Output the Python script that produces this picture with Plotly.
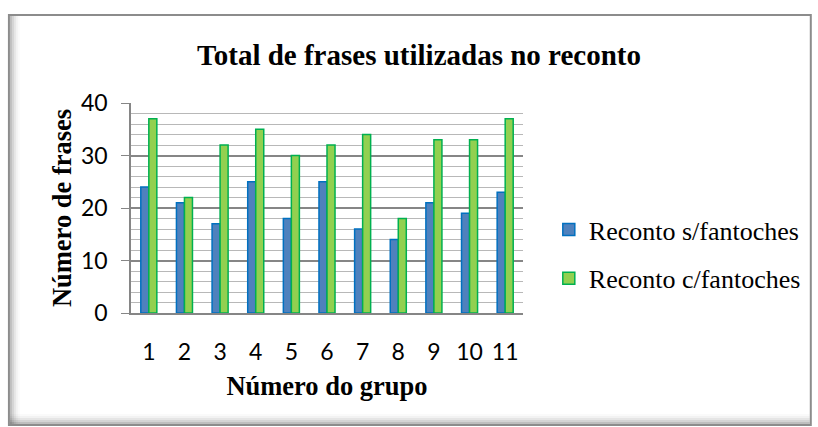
import plotly.graph_objects as go

groups = ["1", "2", "3", "4", "5", "6", "7", "8", "9", "10", "11"]
sem_fantoches = [24, 21, 17, 25, 18, 25, 16, 14, 21, 19, 23]
com_fantoches = [37, 22, 32, 35, 30, 32, 34, 18, 33, 33, 37]
series_names = ["Reconto s/fantoches", "Reconto c/fantoches"]
y_ticks = [0, 10, 20, 30, 40]

W, H = 818, 427
L, R, T, B = 131, 292, 103, 114
pw, ph = W - L - R, H - T - B

def px(x):
    return (x - L) / pw

def py(y):
    return (H - B - y) / ph

fig = go.Figure()
fig.add_trace(go.Bar(x=groups, y=sem_fantoches, name=series_names[0],
                     marker=dict(color="#4f81bd", line=dict(color="#0070c0", width=1.5)),
                     legendgroup="a"))
fig.add_trace(go.Bar(x=groups, y=com_fantoches, name=series_names[1],
                     marker=dict(color="#92d050", line=dict(color="#00b050", width=1.5)),
                     legendgroup="b"))

shapes = []
# shadow inside frame (left and bottom)
for i, op in enumerate([0.10, 0.07, 0.05, 0.03, 0.02]):
    shapes.append(dict(type="rect", xref="paper", yref="paper",
                       x0=px(9), x1=px(11 + 2 * i), y0=py(424), y1=py(16),
                       line=dict(width=0), fillcolor=f"rgba(0,0,0,{op})", layer="below"))
    shapes.append(dict(type="rect", xref="paper", yref="paper",
                       x0=px(9), x1=px(815), y0=py(424), y1=py(422 - 2 * i),
                       line=dict(width=0), fillcolor=f"rgba(0,0,0,{op})", layer="below"))
shapes.append(dict(type="rect", xref="paper", yref="paper",
                   x0=px(8), x1=px(816), y0=py(425), y1=py(15),
                   line=dict(color="#8c8c8c", width=2), fillcolor="rgba(0,0,0,0)"))

fig.update_layout(
    width=W, height=H,
    margin=dict(l=L, r=R, t=T, b=B),
    paper_bgcolor="white", plot_bgcolor="white",
    barmode="group", bargap=0.55, bargroupgap=0,
    title=dict(text="<b>Total de frases utilizadas no reconto</b>",
               font=dict(family="Liberation Serif", size=29, color="black"),
               x=419 / W, xanchor="center", y=1 - 55 / H, yanchor="middle"),
    legend=dict(x=px(552), y=py(206), xanchor="left", yanchor="top",
                font=dict(family="Liberation Serif", size=26, color="black"),
                tracegroupgap=12, traceorder="grouped", itemwidth=30,
                bgcolor="rgba(0,0,0,0)"),
    shapes=shapes,
    xaxis=dict(showline=True, linecolor="#868686", linewidth=1.5, ticks="",
               tickfont=dict(family="Lato", size=23, color="black"),
               ticklabelstandoff=18,
               title=dict(text="<b>Número do grupo</b>",
                          font=dict(family="Liberation Serif", size=26.5, color="black"),
                          standoff=12)),
    yaxis=dict(range=[0, 40], tickvals=y_ticks, showline=True, linecolor="#868686",
               linewidth=1.5, ticks="outside", ticklen=8, tickcolor="#868686",
               showgrid=True, gridcolor="#868686", gridwidth=1.5, zeroline=False,
               ticklabelstandoff=9,
               minor=dict(dtick=2, showgrid=True, gridcolor="#b8b8b8", gridwidth=1, ticks=""),
               tickfont=dict(family="Lato", size=23, color="black"),
               title=dict(text="<b>Número de frases</b>",
                          font=dict(family="Liberation Serif", size=26.5, color="black"),
                          standoff=2)),
)
fig.write_html("out.html", config={"displayModeBar": False},
               post_script="document.body.style.margin='0px';document.body.style.overflow='hidden';")
